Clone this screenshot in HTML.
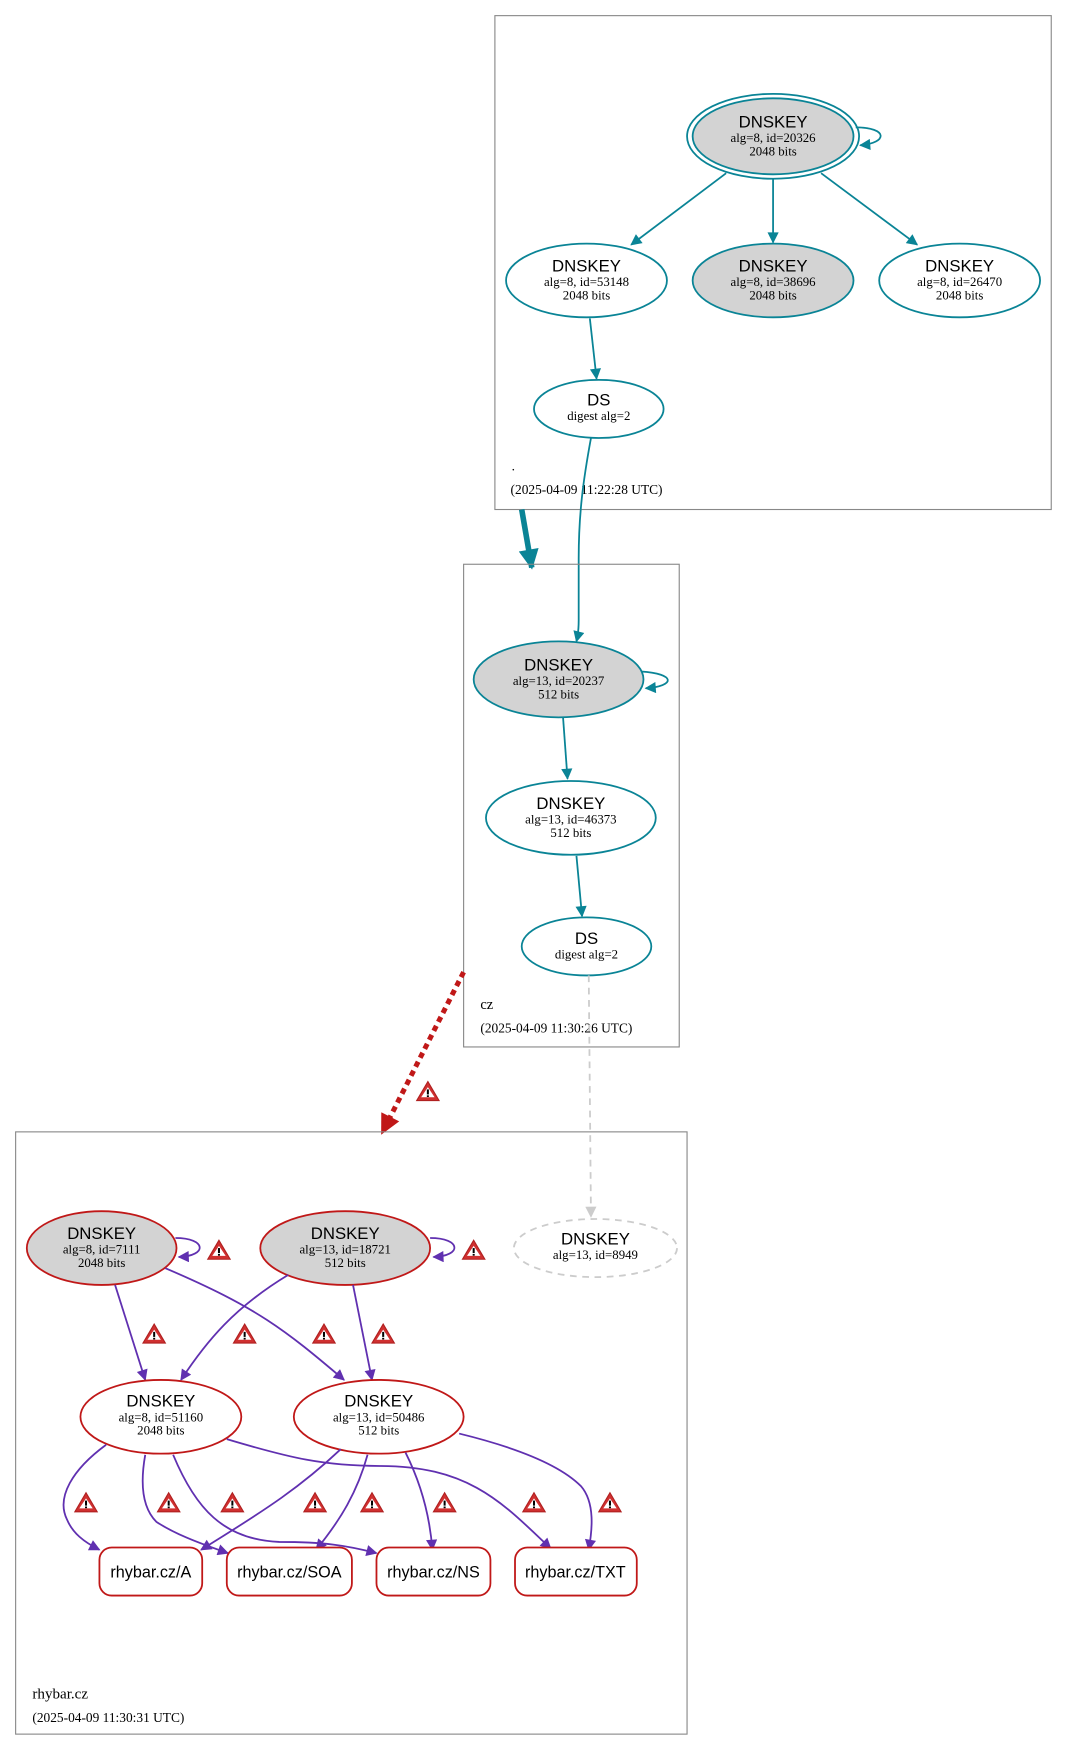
<!DOCTYPE html>
<html><head><meta charset="utf-8"><style>
html,body{margin:0;padding:0;background:#fff;}
svg{display:block;}
.h{font-family:"Liberation Sans",sans-serif;font-size:15px;text-anchor:middle;fill:#000;}
.s{font-family:"Liberation Serif",serif;font-size:11.5px;text-anchor:middle;fill:#000;}
.l{font-family:"Liberation Serif",serif;font-size:12px;fill:#000;}
.t{stroke:#0a8496;stroke-width:1.6;fill:none;}
.p{stroke:#6030b0;stroke-width:1.6;fill:none;}
.r{stroke:#c01818;stroke-width:1.6;}
</style></head><body>
<svg width="1068" height="1752" viewBox="0 0 956 1568" preserveAspectRatio="none" xmlns="http://www.w3.org/2000/svg">
<defs>
<marker id="at" viewBox="0 0 10 10" refX="9" refY="5" markerWidth="12" markerHeight="10" markerUnits="userSpaceOnUse" orient="auto"><path d="M0,0L10,5L0,10z" fill="#0a8496"/></marker>
<marker id="atb" viewBox="0 0 10 10" refX="9" refY="5" markerWidth="22" markerHeight="18" markerUnits="userSpaceOnUse" orient="auto"><path d="M0,0L10,5L0,10z" fill="#0a8496"/></marker>
<marker id="ap" viewBox="0 0 10 10" refX="9" refY="5" markerWidth="12" markerHeight="10" markerUnits="userSpaceOnUse" orient="auto"><path d="M0,0L10,5L0,10z" fill="#6030b0"/></marker>
<marker id="ag" viewBox="0 0 10 10" refX="9" refY="5" markerWidth="12" markerHeight="10" markerUnits="userSpaceOnUse" orient="auto"><path d="M0,0L10,5L0,10z" fill="#cccccc"/></marker>
<marker id="ar" viewBox="0 0 10 10" refX="9" refY="5" markerWidth="20" markerHeight="18" markerUnits="userSpaceOnUse" orient="auto"><path d="M0,0L10,5L0,10z" fill="#c01818"/></marker>
<g id="w"><path d="M0,-9L10,8H-10Z" fill="#d03030" stroke="#b02020" stroke-width="1"/><path d="M0,-4L6,5H-6Z" fill="#fff"/><rect x="-0.9" y="-2" width="1.8" height="4.5" fill="#000"/><rect x="-0.9" y="3.3" width="1.8" height="1.5" fill="#000"/></g>
</defs>

<!-- root zone -->
<rect x="443" y="14" width="498" height="442" fill="none" stroke="#888" stroke-width="1"/>
<ellipse cx="692" cy="122" rx="77" ry="38" class="t"/>
<ellipse cx="692" cy="122" rx="72" ry="34" class="t" style="fill:#d3d3d3"/>
<text x="692" y="114" class="h">DNSKEY</text><text x="692" y="127" class="s">alg=8, id=20326</text><text x="692" y="139" class="s">2048 bits</text>
<path d="M766,114 C795,114 795,128 770,130" class="t" marker-end="url(#at)"/>
<ellipse cx="525" cy="251" rx="72" ry="33" class="t" style="fill:#fff"/>
<text x="525" y="243" class="h">DNSKEY</text><text x="525" y="256" class="s">alg=8, id=53148</text><text x="525" y="268" class="s">2048 bits</text>
<ellipse cx="692" cy="251" rx="72" ry="33" class="t" style="fill:#d3d3d3"/>
<text x="692" y="243" class="h">DNSKEY</text><text x="692" y="256" class="s">alg=8, id=38696</text><text x="692" y="268" class="s">2048 bits</text>
<ellipse cx="859" cy="251" rx="72" ry="33" class="t" style="fill:#fff"/>
<text x="859" y="243" class="h">DNSKEY</text><text x="859" y="256" class="s">alg=8, id=26470</text><text x="859" y="268" class="s">2048 bits</text>
<path d="M650,155 L565,219" class="t" marker-end="url(#at)"/>
<path d="M692,160 L692,217" class="t" marker-end="url(#at)"/>
<path d="M735,155 L821,219" class="t" marker-end="url(#at)"/>
<path d="M528,285 L534,339" class="t" marker-end="url(#at)"/>
<ellipse cx="536" cy="366" rx="58" ry="26" class="t" style="fill:#fff"/>
<text x="536" y="363" class="h">DS</text><text x="536" y="376" class="s">digest alg=2</text>
<text x="458" y="421" class="l">.</text>
<text x="457" y="442" class="l">(2025-04-09 11:22:28 UTC)</text>

<path d="M529,392 C522,430 518,460 518,500 L518,555 C518,565 517,570 516,574" class="t" marker-end="url(#at)"/>
<path d="M467,456 L476,508" stroke="#0a8496" stroke-width="5" fill="none" marker-end="url(#atb)"/>

<!-- cz zone -->
<rect x="415" y="505" width="193" height="432" fill="none" stroke="#888" stroke-width="1"/>
<ellipse cx="500" cy="608" rx="76" ry="34" class="t" style="fill:#d3d3d3"/>
<text x="500" y="600" class="h">DNSKEY</text><text x="500" y="613" class="s">alg=13, id=20237</text><text x="500" y="625" class="s">512 bits</text>
<path d="M574,601 C605,603 605,614 578,616" class="t" marker-end="url(#at)"/>
<path d="M504,642 L508,697" class="t" marker-end="url(#at)"/>
<ellipse cx="511" cy="732" rx="76" ry="33" class="t" style="fill:#fff"/>
<text x="511" y="724" class="h">DNSKEY</text><text x="511" y="737" class="s">alg=13, id=46373</text><text x="511" y="749" class="s">512 bits</text>
<path d="M516,766 L521,820" class="t" marker-end="url(#at)"/>
<ellipse cx="525" cy="847" rx="58" ry="26" class="t" style="fill:#fff"/>
<text x="525" y="845" class="h">DS</text><text x="525" y="858" class="s">digest alg=2</text>
<text x="430" y="903" class="l" style="font-size:13px">cz</text>
<text x="430" y="924" class="l">(2025-04-09 11:30:26 UTC)</text>

<path d="M527,873 L529,1089" stroke="#cccccc" stroke-width="1.6" stroke-dasharray="6,5" fill="none" marker-end="url(#ag)"/>
<path d="M415,870 L342,1014" stroke="#c01818" stroke-width="4.5" stroke-dasharray="5,4" fill="none" marker-end="url(#ar)"/>
<use href="#w" x="383" y="977"/>

<!-- rhybar zone -->
<rect x="14" y="1013" width="601" height="539" fill="none" stroke="#888" stroke-width="1"/>
<ellipse cx="91" cy="1117" rx="67" ry="33" fill="#d3d3d3" class="r"/>
<text x="91" y="1109" class="h">DNSKEY</text><text x="91" y="1122" class="s">alg=8, id=7111</text><text x="91" y="1134" class="s">2048 bits</text>
<ellipse cx="309" cy="1117" rx="76" ry="33" fill="#d3d3d3" class="r"/>
<text x="309" y="1109" class="h">DNSKEY</text><text x="309" y="1122" class="s">alg=13, id=18721</text><text x="309" y="1134" class="s">512 bits</text>
<ellipse cx="533" cy="1117" rx="73" ry="26" fill="#fff" stroke="#ccc" stroke-width="1.6" stroke-dasharray="6,5"/>
<text x="533" y="1114" class="h">DNSKEY</text><text x="533" y="1127" class="s">alg=13, id=8949</text>
<path d="M157,1108 C185,1108 186,1124 160,1125" class="p" marker-end="url(#ap)"/>
<path d="M385,1108 C413,1108 414,1124 388,1125" class="p" marker-end="url(#ap)"/>
<use href="#w" x="196" y="1119"/><use href="#w" x="424" y="1119"/>

<path d="M103,1150 L130,1235" class="p" marker-end="url(#ap)"/>
<path d="M148,1135 C230,1170 255,1190 308,1235" class="p" marker-end="url(#ap)"/>
<path d="M258,1141 C210,1170 185,1200 162,1235" class="p" marker-end="url(#ap)"/>
<path d="M316,1150 L333,1235" class="p" marker-end="url(#ap)"/>
<use href="#w" x="138" y="1194"/><use href="#w" x="219" y="1194"/><use href="#w" x="290" y="1194"/><use href="#w" x="343" y="1194"/>

<ellipse cx="144" cy="1268" rx="72" ry="33" fill="#fff" class="r"/>
<text x="144" y="1259" class="h">DNSKEY</text><text x="144" y="1272" class="s">alg=8, id=51160</text><text x="144" y="1284" class="s">2048 bits</text>
<ellipse cx="339" cy="1268" rx="76" ry="33" fill="#fff" class="r"/>
<text x="339" y="1259" class="h">DNSKEY</text><text x="339" y="1272" class="s">alg=13, id=50486</text><text x="339" y="1284" class="s">512 bits</text>

<path d="M95,1293 C65,1315 50,1340 60,1360 C65,1372 75,1380 89,1387" class="p" marker-end="url(#ap)"/>
<path d="M130,1302 C125,1330 128,1350 140,1362 C155,1372 175,1380 204,1390" class="p" marker-end="url(#ap)"/>
<path d="M155,1302 C175,1350 200,1378 250,1380 C290,1380 310,1383 337,1390" class="p" marker-end="url(#ap)"/>
<path d="M203,1288 C260,1305 290,1312 340,1312 C420,1312 450,1345 493,1386" class="p" marker-end="url(#ap)"/>
<path d="M305,1297 C270,1330 240,1350 180,1387" class="p" marker-end="url(#ap)"/>
<path d="M329,1302 C320,1335 305,1360 283,1387" class="p" marker-end="url(#ap)"/>
<path d="M363,1300 C378,1330 385,1360 387,1387" class="p" marker-end="url(#ap)"/>
<path d="M411,1283 C460,1295 500,1310 520,1330 C533,1345 530,1370 527,1387" class="p" marker-end="url(#ap)"/>
<use href="#w" x="77" y="1345"/><use href="#w" x="151" y="1345"/><use href="#w" x="208" y="1345"/><use href="#w" x="282" y="1345"/><use href="#w" x="333" y="1345"/><use href="#w" x="398" y="1345"/><use href="#w" x="478" y="1345"/><use href="#w" x="546" y="1345"/>

<rect x="89" y="1385" width="92" height="43" rx="11" fill="#fff" class="r"/>
<text x="135" y="1412" class="h" style="font-size:14.5px">rhybar.cz/A</text>
<rect x="203" y="1385" width="112" height="43" rx="11" fill="#fff" class="r"/>
<text x="259" y="1412" class="h" style="font-size:14.5px">rhybar.cz/SOA</text>
<rect x="337" y="1385" width="102" height="43" rx="11" fill="#fff" class="r"/>
<text x="388" y="1412" class="h" style="font-size:14.5px">rhybar.cz/NS</text>
<rect x="461" y="1385" width="109" height="43" rx="11" fill="#fff" class="r"/>
<text x="515" y="1412" class="h" style="font-size:14.5px">rhybar.cz/TXT</text>

<text x="29" y="1520" class="l" style="font-size:13.5px">rhybar.cz</text>
<text x="29" y="1541" class="l">(2025-04-09 11:30:31 UTC)</text>
</svg>
</body></html>
